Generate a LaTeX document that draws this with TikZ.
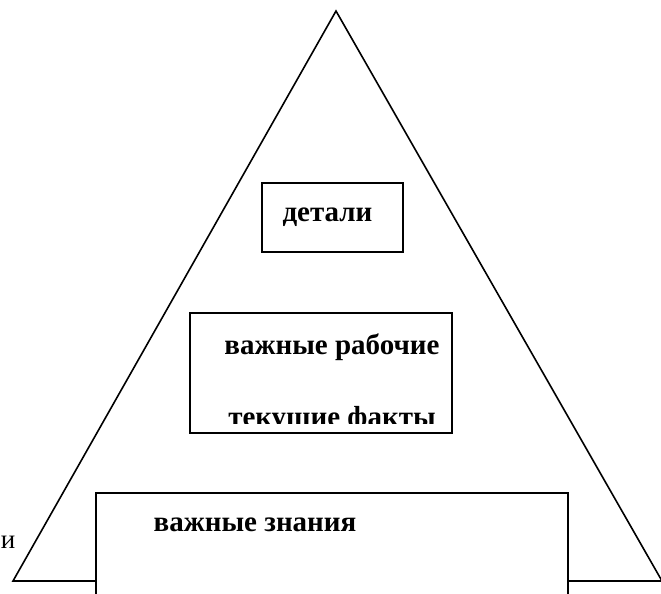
\documentclass[tikz,border=0pt]{standalone}
\usepackage{fontspec}
\setmainfont{Liberation Serif}
\usepackage{tikz}
\usetikzlibrary{positioning}

\begin{document}
\begin{tikzpicture}[x=1pt, y=1pt,
    levelbox/.style={draw, line width=2pt, fill=white, inner sep=0pt},
    leveltext/.style={font=\fontsize{29}{33}\selectfont\bfseries, inner sep=0pt, anchor=base}]
  \clip (0, 0) rectangle (661, -594);

  % Pyramid
  \coordinate (apex) at (336, -11);
  \coordinate (baseL) at (13, -581);
  \coordinate (baseR) at (662, -581);
  \draw[line width=1.6pt, line join=miter] (apex) -- (baseL) -- (baseR) -- cycle;

  % Top box
  \node[levelbox, minimum width=141, minimum height=69] (details) at (332.5, -217.5) {};
  \node[leveltext] (detailstext) at (327.5, -221) {детали};

  % Middle box
  \node[levelbox, minimum width=262, minimum height=120] (work) at (321, -373) {};
  \node[leveltext] (worktext) at (332, -354) {важные рабочие};
  \begin{scope}
    \clip (190, -313) rectangle (452, -423);
    \node[leveltext] (facttext) at (332, -426) {текущие факты};
  \end{scope}

  % Bottom box
  \node[levelbox, minimum width=472, minimum height=127] (knowledge) at (332, -556.5) {};
  \node[leveltext] (knowtext) at (255, -531) {важные знания};

  % Label on the left
  \node[font=\fontsize{27}{31}\selectfont, inner sep=0pt, anchor=base] (leftlabel) at (8, -548) {и};
\end{tikzpicture}
\end{document}
